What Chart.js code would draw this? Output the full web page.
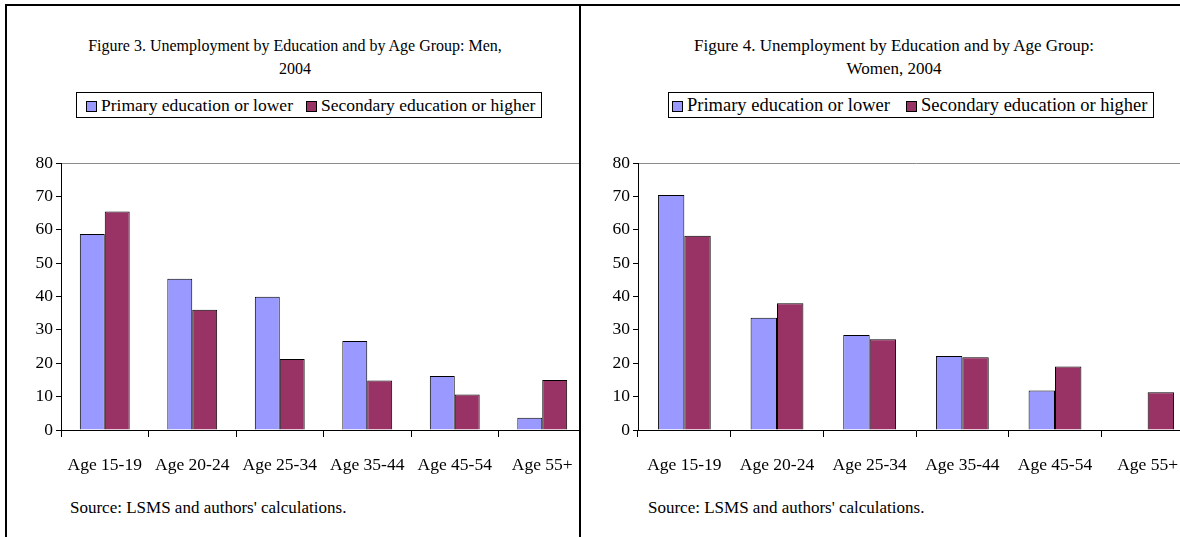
<!DOCTYPE html>
<html>
<head>
<meta charset="utf-8">
<script src="https://cdn.jsdelivr.net/npm/chart.js@4"></script>
<style>
  body { margin: 0; background: #fff; }
  #page { position: relative; width: 1180px; height: 537px; overflow: hidden; background: #fff;
          font-family: "Liberation Serif", "DejaVu Serif", serif; color: #000; }
  .line { position: absolute; background: #000; }
  .panel { position: absolute; top: 6px; height: 531px; overflow: hidden; }
  .panel canvas { position: absolute; }
  .title { position: absolute; width: 500px; text-align: center; line-height: 23px; }
  .legend { position: absolute; height: 26px; border: 1px solid #000; box-sizing: border-box;
            line-height: 24px; white-space: nowrap; }
  .legend span.sw { display: inline-block; width: 9px; height: 9px; border: 1px solid #000; margin-right: 4px;
                    vertical-align: -1px; }
  .source { position: absolute; font-size: 17px; }
</style>
</head>
<body>
<div id="page">
  <div class="line" style="left:5px;top:4px;width:1175px;height:2px"></div>
  <div class="line" style="left:5px;top:4px;width:2px;height:533px"></div>
  <div class="line" style="left:579px;top:4px;width:2px;height:533px"></div>

  <div class="panel" style="left:7px;width:572px">
    <div class="title" style="left:38px;top:28px;font-size:16px" id="title1"></div>
    <div class="legend" style="left:69px;top:86px;width:466px;padding-left:9px;font-size:17.5px" id="legend1"></div>
    <canvas id="chart1"></canvas>
    <div class="source" style="left:63px;top:492px" id="source1"></div>
  </div>

  <div class="panel" style="left:581px;width:599px">
    <div class="title" style="left:63px;top:28px;font-size:17px" id="title2"></div>
    <div class="legend" style="left:87px;top:86px;width:486px;padding-left:3px;font-size:18.5px" id="legend2"></div>
    <canvas id="chart2"></canvas>
    <div class="source" style="left:67px;top:492px" id="source2"></div>
  </div>
</div>
<script>
const categories = ['Age 15-19', 'Age 20-24', 'Age 25-34', 'Age 35-44', 'Age 45-54', 'Age 55+'];
const seriesNames = ['Primary education or lower', 'Secondary education or higher'];
const seriesColors = ['#9999FF', '#993366'];

const menPrimary = [58.7, 45.3, 39.9, 26.7, 16.2, 3.7];
const menSecondary = [65.5, 36.0, 21.3, 14.8, 10.6, 15.0];
const womenPrimary = [70.4, 33.6, 28.5, 22.2, 11.8, 0];
const womenSecondary = [58.2, 38.0, 27.2, 21.8, 19.0, 11.3];

const yTicks = [0, 10, 20, 30, 40, 50, 60, 70, 80];

const titles = [
    ['Figure 3. Unemployment by Education and by Age Group: Men,', '2004'],
    ['Figure 4. Unemployment by Education and by Age Group:', 'Women, 2004']
];
const sourceText = "Source: LSMS and authors' calculations.";
const serif = '"Liberation Serif", "DejaVu Serif", serif';

function fillText(idx, itemGap) {
    document.getElementById('title' + idx).innerHTML = titles[idx - 1].join('<br>');
    document.getElementById('source' + idx).textContent = sourceText;
    const legend = document.getElementById('legend' + idx);
    seriesNames.forEach((name, i) => {
        const item = document.createElement('span');
        item.style.marginRight = itemGap + 'px';
        item.innerHTML = '<span class="sw" style="background:' + seriesColors[i] + '"></span>' + name;
        legend.appendChild(item);
    });
}

function drawChart(canvasId, primary, secondary, box) {
    const canvas = document.getElementById(canvasId);
    canvas.style.left = box.left + 'px';
    canvas.style.top = box.top + 'px';
    canvas.style.width = box.width + 'px';
    canvas.style.height = box.height + 'px';
    const ctx = canvas.getContext('2d');

    new Chart(ctx, {
        type: 'bar',
        data: {
            labels: categories,
            datasets: [primary, secondary].map((values, i) => ({
                label: seriesNames[i],
                data: values,
                backgroundColor: seriesColors[i],
                borderColor: '#000',
                borderWidth: 1,
                categoryPercentage: 0.57,
                barPercentage: 1
            }))
        },
        options: {
            responsive: false,
            animation: false,
            layout: { padding: { top: box.padTop, right: box.padRight, left: 0, bottom: 0 } },
            plugins: { legend: { display: false }, tooltip: { enabled: false } },
            scales: {
                x: {
                    afterFit: scale => { scale.height = 60; },
                    grid: { drawOnChartArea: false, color: '#000', tickLength: 7, offset: true },
                    border: { color: '#000', width: 1 },
                    ticks: {
                        color: '#000', padding: 18, maxRotation: 0, autoSkip: false,
                        font: { family: serif, size: 17.5 }
                    }
                },
                y: {
                    min: 0,
                    max: 80,
                    afterFit: scale => { scale.width = 41; },
                    afterBuildTicks: scale => { scale.ticks = yTicks.map(v => ({ value: v })); },
                    grid: {
                        color: c => (c.tick && c.tick.value === 80 ? '#8c8c8c' : 'rgba(0,0,0,0)'),
                        tickColor: '#000',
                        tickLength: 5
                    },
                    border: { color: '#000', width: 1 },
                    ticks: {
                        color: '#000', padding: 3,
                        font: { family: serif, size: 17.5 }
                    }
                }
            }
        }
    });
}

document.addEventListener('DOMContentLoaded', () => {
    fillText(1, 13);
    fillText(2, 16);
    // canvas boxes are relative to each clipping panel
    drawChart('chart1', menPrimary, menSecondary,
        { left: 13, top: 140, width: 600, height: 344, padTop: 17, padRight: 34 });
    drawChart('chart2', womenPrimary, womenSecondary,
        { left: 16, top: 140, width: 631, height: 344, padTop: 17, padRight: 34 });
});
</script>
</body>
</html>
